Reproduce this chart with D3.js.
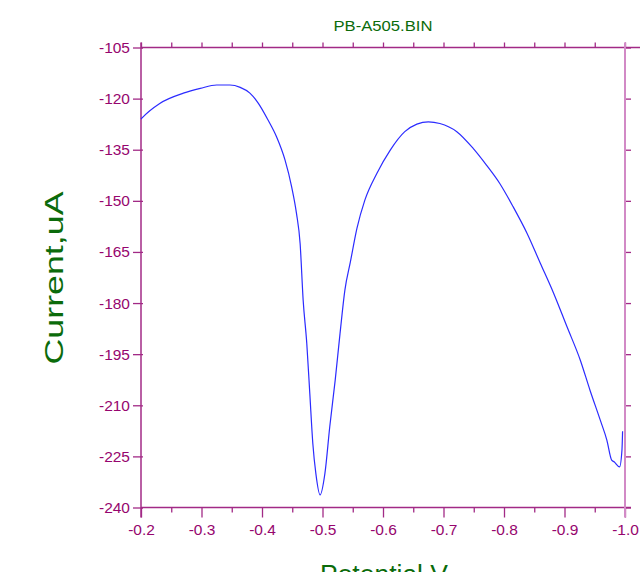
<!DOCTYPE html>
<html>
<head>
<meta charset="utf-8">
<script src="https://cdn.jsdelivr.net/npm/d3@7"></script>
<style>
  html, body { margin: 0; padding: 0; background: #fff; overflow: hidden; }
  svg { display: block; }
  text { font-family: Arial, "Liberation Sans", sans-serif; }
</style>
</head>
<body>
<svg id="chart" width="640" height="572"></svg>
<script>
// Voltammogram trace: potential (V) vs current (uA)
const potential = [
  -0.200, -0.201, -0.231, -0.270, -0.298, -0.325, -0.347, -0.364, -0.380, -0.394,
  -0.410, -0.424, -0.438, -0.449, -0.457, -0.463, -0.468, -0.474, -0.479, -0.484,
  -0.489, -0.496, -0.504, -0.512, -0.521, -0.529, -0.537, -0.546, -0.557, -0.570,
  -0.590, -0.612, -0.636, -0.656, -0.675, -0.694, -0.722, -0.749, -0.771, -0.793,
  -0.815, -0.838, -0.860, -0.882, -0.904, -0.926, -0.942, -0.959, -0.970, -0.978,
  -0.982, -0.991, -0.995, -0.996
];
const current = [
  -126.0, -125.8, -121.4, -118.4, -117.0, -116.0, -116.0, -116.7, -118.4, -121.4,
  -126.3, -131.2, -138.0, -145.9, -153.7, -162.5, -179.1, -191.8, -206.5, -221.2,
  -230.0, -236.3, -230.0, -216.3, -202.6, -188.9, -176.2, -168.0, -158.0, -149.8,
  -141.9, -135.1, -129.7, -127.5, -126.8, -127.3, -129.7, -134.6, -139.5, -144.9,
  -151.7, -159.5, -168.3, -177.1, -186.9, -196.7, -205.5, -214.3, -220.2, -226.1,
  -226.6, -228.1, -223.1, -217.6
];

// Axis ticks
const xTicks = [-0.2, -0.3, -0.4, -0.5, -0.6, -0.7, -0.8, -0.9, -1.0];
const xMinorTicks = [-0.25, -0.35, -0.45, -0.55, -0.65, -0.75, -0.85, -0.95];
const yTicks = [-105, -120, -135, -150, -165, -180, -195, -210, -225, -240];

const titleText = "PB-A505.BIN";
const xLabel = "Potential,V";
const yLabel = "Current,uA";

const axisColor = "#a22a86";
const axisLight = "#d28ac6";
const labelColor = "#96056e";
const green = "#0b6b0b";

const svg = d3.select("#chart");
const plotLeft = 141, plotRight = 625, plotTop = 47.5, plotBottom = 507.5;

const x = d3.scaleLinear().domain([-0.2, -1.0]).range([plotLeft, plotRight]);
const y = d3.scaleLinear().domain([-105, -240]).range([plotTop, plotBottom]);

// plain ASCII hyphen for negative tick labels
const fmtX = d => d.toFixed(1);
const fmtY = d => String(d);

// Bottom axis
const gBottom = svg.append("g").attr("transform", `translate(0,${plotBottom})`);
gBottom.call(d3.axisBottom(x).tickValues(xTicks).tickSize(10).tickPadding(6).tickFormat(fmtX));
gBottom.append("g").call(d3.axisBottom(x).tickValues(xMinorTicks).tickSize(5).tickFormat(""));
gBottom.selectAll(".domain").remove();
gBottom.append("line").attr("x1", plotLeft).attr("x2", 631).attr("stroke", axisColor).attr("stroke-width", 1.5);

// Top axis (ticks only)
const gTop = svg.append("g").attr("transform", `translate(0,${plotTop})`);
gTop.call(d3.axisTop(x).tickValues(xTicks.concat(xMinorTicks)).tickSize(5).tickFormat(""));
gTop.selectAll(".domain").remove();
gTop.append("line").attr("x1", plotLeft).attr("x2", 640).attr("stroke", axisColor).attr("stroke-width", 1.5);

// Left axis
const gLeft = svg.append("g").attr("transform", `translate(${plotLeft},0)`);
gLeft.call(d3.axisLeft(y).tickValues(yTicks).tickSize(8).tickPadding(3).tickFormat(fmtY));
gLeft.call(g => g.selectAll(".tick").append("line").attr("x2", 2).attr("stroke", axisColor));
gLeft.selectAll(".domain").remove();
gLeft.append("line").attr("y1", plotTop - 5).attr("y2", plotBottom + 10).attr("stroke", axisColor).attr("stroke-width", 1.5);

// Right axis
const gRight = svg.append("g").attr("transform", `translate(${plotRight},0)`);
gRight.call(d3.axisRight(y).tickValues(yTicks).tickSize(6).tickFormat(""));
gRight.selectAll(".domain").remove();
gRight.append("line").attr("y1", plotTop - 5).attr("y2", plotBottom + 10).attr("stroke", axisLight).attr("stroke-width", 2);

svg.selectAll(".tick line").attr("stroke", axisColor).attr("stroke-width", 1.3);
svg.selectAll(".tick text")
  .attr("fill", labelColor)
  .style("font-size", "15.5px")
  .style("font-family", "Arial, 'Liberation Sans', sans-serif");

// Trace
const line = d3.line()
  .x((d, i) => x(potential[i]))
  .y(d => y(d))
  .curve(d3.curveMonotoneX);

svg.append("path")
  .datum(current)
  .attr("d", line)
  .attr("fill", "none")
  .attr("stroke", "#2b2bff")
  .attr("stroke-width", 1.2);

// Titles
svg.append("text")
  .attr("x", 383).attr("y", 31)
  .attr("text-anchor", "middle")
  .attr("fill", green)
  .attr("textLength", 99)
  .attr("lengthAdjust", "spacingAndGlyphs")
  .style("font-size", "14px")
  .text(titleText);

svg.append("text")
  .attr("transform", "translate(63,278) rotate(-90)")
  .attr("text-anchor", "middle")
  .attr("fill", green)
  .attr("textLength", 173)
  .attr("lengthAdjust", "spacingAndGlyphs")
  .style("font-size", "25px")
  .text(yLabel);

svg.append("text")
  .attr("x", 384).attr("y", 583)
  .attr("text-anchor", "middle")
  .attr("fill", green)
  .attr("textLength", 128)
  .attr("lengthAdjust", "spacingAndGlyphs")
  .style("font-size", "25px")
  .text(xLabel);
</script>
</body>
</html>
